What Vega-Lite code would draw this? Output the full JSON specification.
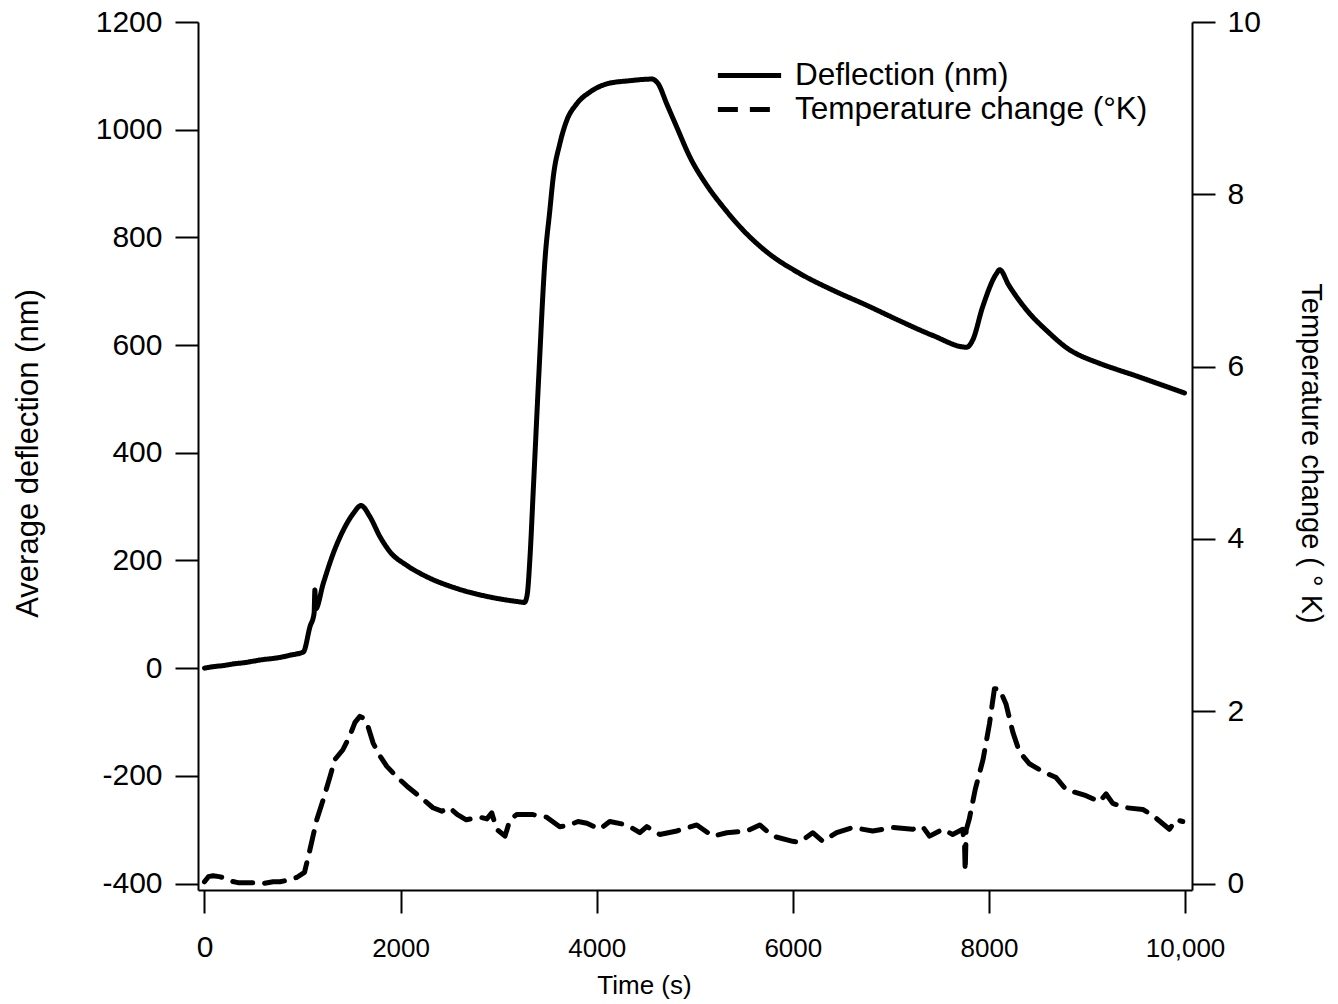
{
  "$schema": "https://vega.github.io/schema/vega-lite/v6.json",
  "width": 994,
  "height": 868,
  "autosize": "none",
  "padding": {"left": 198, "top": 22, "right": 146, "bottom": 114},
  "background": "white",
  "config": {
    "view": {"stroke": null},
    "font": "Liberation Sans",
    "axis": {
      "domainColor": "black", "domainWidth": 2, "tickColor": "black", "tickWidth": 2, "tickSize": 23,
      "grid": false, "labelColor": "black", "titleColor": "black", "titleFontWeight": "normal",
      "labelFont": "Liberation Sans", "titleFont": "Liberation Sans"
    },
    "legend": {
      "orient": "none", "legendX": 533, "legendY": 35, "title": null,
      "symbolType": "M-2,0L2,0", "symbolSize": 1000, "symbolStrokeWidth": 5, "symbolStrokeColor": "black",
      "labelFontSize": 31.5, "labelColor": "black", "labelFont": "Liberation Sans", "labelOffset": 27,
      "labelLimit": 0, "rowPadding": -1, "symbolOffset": 0
    }
  },
  "datasets": {
    "deflection": [
      {"t": 0, "d": 0}, {"t": 100, "d": 3}, {"t": 200, "d": 5}, {"t": 300, "d": 8}, {"t": 400, "d": 10},
      {"t": 500, "d": 13}, {"t": 600, "d": 16}, {"t": 700, "d": 18}, {"t": 800, "d": 21}, {"t": 872, "d": 24},
      {"t": 1008, "d": 30}, {"t": 1076, "d": 77}, {"t": 1118, "d": 102}, {"t": 1126, "d": 145}, {"t": 1134, "d": 110},
      {"t": 1211, "d": 157}, {"t": 1313, "d": 213}, {"t": 1415, "d": 256}, {"t": 1517, "d": 287}, {"t": 1596, "d": 302},
      {"t": 1688, "d": 281}, {"t": 1790, "d": 244}, {"t": 1892, "d": 216}, {"t": 2062, "d": 191}, {"t": 2231, "d": 173},
      {"t": 2572, "d": 148}, {"t": 2912, "d": 132}, {"t": 3218, "d": 123}, {"t": 3262, "d": 122}, {"t": 3290, "d": 135},
      {"t": 3320, "d": 207}, {"t": 3353, "d": 330}, {"t": 3410, "d": 545}, {"t": 3472, "d": 757}, {"t": 3522, "d": 850},
      {"t": 3557, "d": 912}, {"t": 3624, "d": 974}, {"t": 3694, "d": 1017}, {"t": 3796, "d": 1048}, {"t": 3932, "d": 1070},
      {"t": 4102, "d": 1085}, {"t": 4340, "d": 1091}, {"t": 4561, "d": 1094}, {"t": 4628, "d": 1085}, {"t": 4714, "d": 1048},
      {"t": 4816, "d": 1005}, {"t": 4951, "d": 949}, {"t": 5122, "d": 897}, {"t": 5291, "d": 856}, {"t": 5495, "d": 813},
      {"t": 5734, "d": 773}, {"t": 6070, "d": 733}, {"t": 6407, "d": 702}, {"t": 6752, "d": 674},
      {"t": 7090, "d": 645}, {"t": 7426, "d": 618}, {"t": 7772, "d": 596}, {"t": 7834, "d": 609}, {"t": 7936, "d": 671},
      {"t": 8078, "d": 733}, {"t": 8110, "d": 740}, {"t": 8200, "d": 712}, {"t": 8385, "d": 665}, {"t": 8600, "d": 625},
      {"t": 8792, "d": 595}, {"t": 9128, "d": 566}, {"t": 9300, "d": 555}, {"t": 9465, "d": 545}, {"t": 9700, "d": 530},
      {"t": 9995, "d": 511}
    ],
    "temperature": [
      {"t": 0, "T": 0.02}, {"t": 40, "T": 0.08}, {"t": 87, "T": 0.09}, {"t": 150, "T": 0.08}, {"t": 190, "T": 0.07},
      {"t": 260, "T": 0.03}, {"t": 342, "T": 0.01}, {"t": 510, "T": 0.01}, {"t": 600, "T": 0.0}, {"t": 700, "T": 0.02},
      {"t": 770, "T": 0.02}, {"t": 850, "T": 0.04}, {"t": 940, "T": 0.07}, {"t": 1020, "T": 0.13}, {"t": 1075, "T": 0.39},
      {"t": 1145, "T": 0.74}, {"t": 1210, "T": 0.97}, {"t": 1280, "T": 1.24}, {"t": 1330, "T": 1.44}, {"t": 1410, "T": 1.55},
      {"t": 1480, "T": 1.71}, {"t": 1535, "T": 1.87}, {"t": 1585, "T": 1.94}, {"t": 1620, "T": 1.92}, {"t": 1655, "T": 1.87},
      {"t": 1720, "T": 1.63}, {"t": 1790, "T": 1.48}, {"t": 1860, "T": 1.36}, {"t": 1960, "T": 1.24}, {"t": 2065, "T": 1.13},
      {"t": 2195, "T": 1.01}, {"t": 2330, "T": 0.88}, {"t": 2420, "T": 0.84}, {"t": 2500, "T": 0.88}, {"t": 2580, "T": 0.8},
      {"t": 2670, "T": 0.74}, {"t": 2750, "T": 0.76}, {"t": 2810, "T": 0.77}, {"t": 2880, "T": 0.75}, {"t": 2930, "T": 0.82},
      {"t": 2980, "T": 0.63}, {"t": 3065, "T": 0.55}, {"t": 3115, "T": 0.74}, {"t": 3185, "T": 0.8}, {"t": 3350, "T": 0.8},
      {"t": 3490, "T": 0.77}, {"t": 3623, "T": 0.66}, {"t": 3700, "T": 0.67}, {"t": 3810, "T": 0.72}, {"t": 3900, "T": 0.7},
      {"t": 4031, "T": 0.63}, {"t": 4133, "T": 0.72}, {"t": 4307, "T": 0.68}, {"t": 4440, "T": 0.59}, {"t": 4511, "T": 0.66},
      {"t": 4643, "T": 0.57}, {"t": 4817, "T": 0.61}, {"t": 5021, "T": 0.68}, {"t": 5184, "T": 0.55}, {"t": 5327, "T": 0.59},
      {"t": 5531, "T": 0.61}, {"t": 5663, "T": 0.68}, {"t": 5796, "T": 0.55}, {"t": 5999, "T": 0.49}, {"t": 6070, "T": 0.48},
      {"t": 6203, "T": 0.59}, {"t": 6305, "T": 0.49}, {"t": 6447, "T": 0.59}, {"t": 6610, "T": 0.65}, {"t": 6814, "T": 0.61},
      {"t": 7018, "T": 0.65}, {"t": 7222, "T": 0.63}, {"t": 7324, "T": 0.66}, {"t": 7395, "T": 0.55}, {"t": 7528, "T": 0.63},
      {"t": 7630, "T": 0.57}, {"t": 7732, "T": 0.63}, {"t": 7752, "T": 0.43}, {"t": 7758, "T": 0.14}, {"t": 7768, "T": 0.62},
      {"t": 7800, "T": 0.75}, {"t": 7860, "T": 1.09}, {"t": 7940, "T": 1.44}, {"t": 8005, "T": 1.85}, {"t": 8056, "T": 2.26},
      {"t": 8107, "T": 2.26}, {"t": 8175, "T": 2.08}, {"t": 8243, "T": 1.76}, {"t": 8311, "T": 1.53}, {"t": 8413, "T": 1.39},
      {"t": 8549, "T": 1.3}, {"t": 8685, "T": 1.23}, {"t": 8787, "T": 1.09}, {"t": 8991, "T": 1.02}, {"t": 9127, "T": 0.95},
      {"t": 9195, "T": 1.04}, {"t": 9263, "T": 0.93}, {"t": 9399, "T": 0.88}, {"t": 9569, "T": 0.86}, {"t": 9671, "T": 0.79},
      {"t": 9841, "T": 0.63}, {"t": 9909, "T": 0.74}, {"t": 9977, "T": 0.72}
    ]
  },
  "layer": [
    {
      "data": {"name": "deflection"},
      "mark": {"type": "line", "color": "black", "strokeWidth": 5, "strokeCap": "round", "strokeJoin": "round", "interpolate": "monotone"},
      "encoding": {
        "x": {
          "field": "t", "type": "quantitative",
          "scale": {"domain": [-66, 10071], "nice": false, "zero": false},
          "axis": {
            "values": [0, 2000, 4000, 6000, 8000, 10000],
            "labelExpr": "datum.value >= 10000 ? format(datum.value, ',') : format(datum.value, 'd')",
            "labelFontSize": {"condition": {"test": "datum.value === 0", "value": 30}, "value": 26},
            "labelBaseline": "alphabetic", "labelPadding": 43,
            "title": "Time (s)", "titleFontSize": 26, "titleX": 446, "titleY": 95, "titleBaseline": "middle"
          }
        },
        "y": {
          "field": "d", "type": "quantitative",
          "scale": {"domain": [-412, 1200], "nice": false, "zero": false},
          "axis": {
            "orient": "left", "values": [-400, -200, 0, 200, 400, 600, 800, 1000, 1200],
            "labelExpr": "datum.value < 0 ? '-' + format(-datum.value, 'd') : format(datum.value, 'd')",
            "labelFontSize": 30, "labelPadding": 13,
            "title": "Average deflection (nm)", "titleFontSize": 31, "titleAngle": 270,
            "titleX": -170, "titleY": 431, "titleBaseline": "middle"
          }
        },
        "strokeDash": {
          "datum": "Deflection (nm)",
          "scale": {"domain": ["Deflection (nm)", "Temperature change (°K)"], "range": [[1, 0], [20, 12]]}
        }
      }
    },
    {
      "data": {"name": "temperature"},
      "mark": {"type": "line", "color": "black", "strokeWidth": 5, "strokeCap": "round", "strokeJoin": "round", "strokeDash": [9, 13]},
      "encoding": {
        "x": {"field": "t", "type": "quantitative"},
        "y": {
          "field": "T", "type": "quantitative",
          "scale": {"domain": [-0.075, 10], "nice": false, "zero": false},
          "axis": {
            "orient": "right", "values": [0, 2, 4, 6, 8, 10],
            "labelFontSize": 30, "labelPadding": 12,
            "title": "Temperature change ( ° K)", "titleFontSize": 29, "titleAngle": 90,
            "titleX": 118, "titleY": 431, "titleBaseline": "middle"
          }
        },
        "strokeDash": {"datum": "Temperature change (°K)"}
      }
    }
  ],
  "resolve": {"scale": {"y": "independent"}}
}
